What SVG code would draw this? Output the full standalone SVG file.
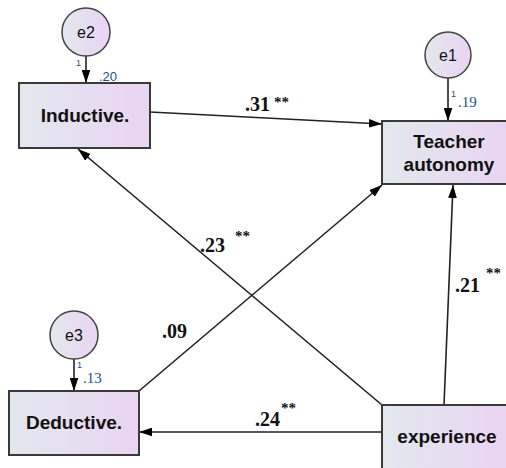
<svg xmlns="http://www.w3.org/2000/svg" width="506" height="468" viewBox="0 0 506 468">
<defs>
<linearGradient id="g" x1="0" y1="0" x2="1" y2="0">
<stop offset="0" stop-color="#e2e8ee"/>
<stop offset="1" stop-color="#ead4f2"/>
</linearGradient>
<marker id="ah" viewBox="0 0 12 8" refX="12" refY="4" markerWidth="13" markerHeight="9" markerUnits="userSpaceOnUse" orient="auto">
<path d="M0,0 L12,4 L0,8 Z" fill="#000"/>
</marker>
<style>
.box{fill:url(#g);stroke:#3a3a3a;stroke-width:2}
.circ{fill:url(#g);stroke:#444;stroke-width:1.5}
.nt{font-family:"Liberation Sans",Arial,sans-serif;font-weight:bold;font-size:19px;fill:#111;text-anchor:middle}
.et{font-family:"Liberation Sans",Arial,sans-serif;font-size:16px;fill:#111;text-anchor:middle}
.var{font-family:"Liberation Sans",Arial,sans-serif;font-size:13px;fill:#1a4f8a}
.vars{font-family:"Liberation Serif","Times New Roman",serif;font-size:15px;fill:#1a4f8a}
.one{font-family:"Liberation Sans",Arial,sans-serif;font-size:9px;fill:#1a4f8a}
.co{font-family:"Liberation Serif","Times New Roman",serif;font-weight:bold;font-size:20px;fill:#111}
.st{font-family:"Liberation Serif","Times New Roman",serif;font-weight:bold;font-size:15px;fill:#111}
.ln{stroke:#222;stroke-width:1.6;fill:none;marker-end:url(#ah)}
</style>
</defs>
<rect width="506" height="468" fill="#fff"/>
<g id="connectors">
<line class="ln" x1="86" y1="56" x2="86" y2="83"/>
<line class="ln" x1="448" y1="78" x2="448" y2="121"/>
<line class="ln" x1="74" y1="359" x2="74" y2="391"/>
<line class="ln" x1="150" y1="112" x2="382" y2="124"/>
<line class="ln" x1="382" y1="405" x2="78" y2="149"/>
<line class="ln" x1="139" y1="391" x2="382" y2="185"/>
<line class="ln" x1="444" y1="405" x2="453" y2="185"/>
<line class="ln" x1="382" y1="432" x2="139" y2="432"/>
<text class="co" x="245" y="111">.31</text><text class="st" x="274" y="107">**</text>
<text class="co" x="200" y="252">.23</text><text class="st" x="235" y="241">**</text>
<text class="co" x="162" y="338">.09</text>
<text class="co" x="455" y="292">.21</text><text class="st" x="486" y="278">**</text>
<text class="co" x="255" y="426">.24</text><text class="st" x="281" y="413">**</text>
<text class="one" x="76" y="66">1</text><text class="var" x="99" y="81">.20</text>
<text class="one" x="451" y="97">1</text><text class="vars" x="458" y="107">.19</text>
<text class="one" x="77" y="368">1</text><text class="vars" x="83" y="383">.13</text>
</g>
<g id="e2"><circle class="circ" cx="86" cy="32" r="24"/><text class="et" x="86" y="38">e2</text></g>
<g id="e1"><circle class="circ" cx="448" cy="55" r="23"/><text class="et" x="448" y="61">e1</text></g>
<g id="e3"><circle class="circ" cx="74" cy="335" r="24"/><text class="et" x="74" y="341">e3</text></g>
<g id="inductive"><rect class="box" x="19" y="83" width="131" height="65"/><text class="nt" x="85" y="122">Inductive.</text></g>
<g id="teacher"><rect class="box" x="382" y="121" width="126" height="63"/><text class="nt" x="449" y="148">Teacher</text><text class="nt" x="449" y="171">autonomy</text></g>
<g id="deductive"><rect class="box" x="9" y="391" width="130" height="64"/><text class="nt" x="74" y="429">Deductive.</text></g>
<g id="experience"><rect class="box" x="382" y="405" width="126" height="66"/><text class="nt" x="447" y="443">experience</text></g>
</svg>
